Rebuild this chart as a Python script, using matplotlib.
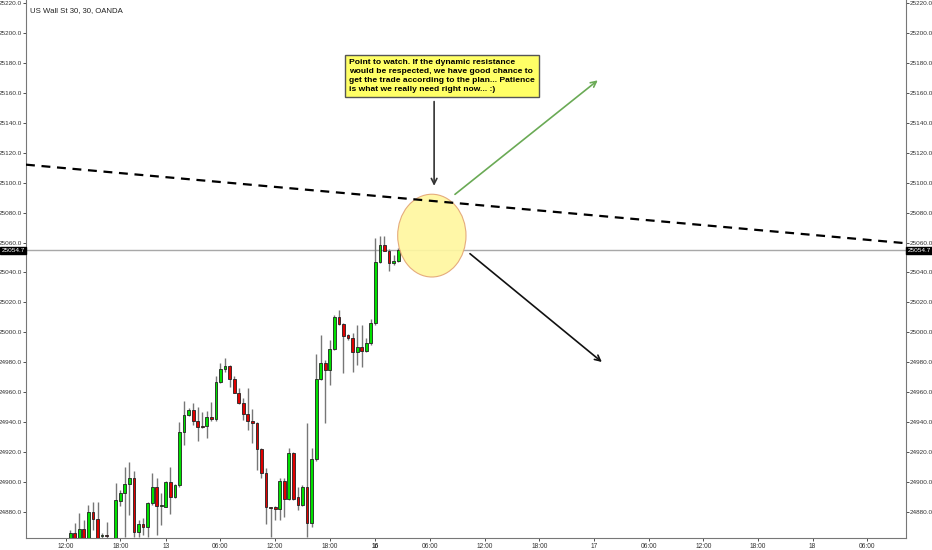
#!/usr/bin/env python

import numpy as np
import matplotlib.pyplot as plt
from matplotlib.patches import Ellipse
from matplotlib.transforms import blended_transform_factory

plt.rcParams['font.family'] = ['Liberation Sans', 'DejaVu Sans']

# 30 min bars, index 0 = 12:00 on the 12th
bar_idx = list(range(1, 74))
opens = [24862.0, 24866.2, 24862.0, 24868.6, 24861.0, 24880.2, 24875.3, 24864.2, 24864.5, 24862.5,
         24852.0, 24887.6, 24892.5, 24898.7, 24902.5, 24866.9, 24872.0, 24869.8, 24885.8, 24896.7,
         24884.0, 24883.6, 24900.3, 24890.3, 24898.0, 24933.2, 24944.6, 24948.4, 24940.6, 24937.4,
         24937.4, 24943.7, 24941.9, 24966.6, 24975.8, 24977.5, 24968.6, 24959.7, 24953.0, 24945.2,
         24941.0, 24939.2, 24921.9, 24906.3, 24883.1, 24883.1, 24881.8, 24900.7, 24888.5, 24919.2,
         24890.3, 24884.5, 24896.5, 24872.9, 24915.2, 24968.6, 24979.3, 24974.9, 24989.1, 25010.1,
         25005.4, 24998.0, 24996.5, 24986.9, 24990.5, 24987.8, 24993.1, 25006.0, 25047.0, 25058.4,
         25054.6, 25046.1, 25047.7]
highs = [24868.0, 24872.4, 24879.6, 24874.7, 24884.7, 24886.5, 24886.9, 24866.0, 24873.3, 24862.6,
         24899.2, 24894.7, 24909.8, 24913.6, 24907.6, 24874.7, 24875.8, 24886.9, 24905.8, 24902.5,
         24892.5, 24901.0, 24909.8, 24899.0, 24940.4, 24954.4, 24949.3, 24952.6, 24950.4, 24947.0,
         24947.5, 24953.3, 24970.8, 24979.3, 24982.7, 24978.2, 24971.1, 24962.6, 24955.9, 24962.6,
         24949.0, 24940.4, 24922.5, 24909.2, 24883.5, 24884.0, 24902.5, 24902.5, 24922.5, 24920.3,
         24896.9, 24898.0, 24939.7, 24922.5, 24985.6, 24998.2, 24981.5, 24994.9, 25011.6, 25015.0,
         25006.0, 24999.0, 24999.4, 25004.9, 25004.9, 24996.0, 25008.7, 25062.8, 25064.4, 25064.4,
         25055.5, 25051.5, 25056.2]
lows = [24858.0, 24858.0, 24858.0, 24857.0, 24858.0, 24868.0, 24856.0, 24862.0, 24862.0, 24845.0,
        24848.0, 24884.0, 24863.5, 24878.0, 24863.5, 24863.5, 24864.6, 24863.5, 24884.7, 24864.6,
        24871.3, 24883.0, 24878.7, 24889.0, 24897.0, 24924.8, 24944.0, 24938.1, 24927.7, 24936.3,
        24929.7, 24941.0, 24941.0, 24966.0, 24973.8, 24963.7, 24959.3, 24952.0, 24941.5, 24934.8,
        24925.9, 24908.1, 24902.5, 24872.0, 24863.5, 24874.7, 24874.7, 24876.4, 24888.0, 24888.0,
        24881.3, 24884.0, 24863.5, 24870.2, 24914.0, 24968.0, 24939.2, 24964.8, 24988.0, 25005.0,
        24972.6, 24995.0, 24973.8, 24978.2, 24977.1, 24987.0, 24991.6, 25005.0, 25046.0, 25054.0,
        25041.0, 25045.0, 25047.0]
closes = [24866.2, 24862.0, 24868.6, 24861.0, 24880.2, 24875.3, 24860.0, 24864.6, 24864.0, 24850.0,
          24888.0, 24892.5, 24898.7, 24902.5, 24866.9, 24872.0, 24869.8, 24885.8, 24896.7, 24884.0,
          24884.2, 24900.3, 24890.3, 24898.0, 24933.2, 24944.6, 24948.4, 24940.6, 24937.0, 24937.0,
          24943.7, 24941.9, 24966.6, 24975.8, 24977.5, 24968.6, 24959.7, 24953.0, 24945.2, 24941.0,
          24939.2, 24921.9, 24906.3, 24883.1, 24882.7, 24881.8, 24900.7, 24888.5, 24919.2, 24888.5,
          24884.5, 24896.5, 24872.9, 24915.2, 24968.6, 24979.3, 24974.9, 24989.1, 25010.1, 25005.4,
          24997.6, 24996.0, 24986.9, 24990.5, 24987.8, 24993.1, 25006.0, 25047.0, 25058.4, 25054.6,
          25046.1, 25047.7, 25054.7]

last_price = 25054.7
tick_pos = [0, 12, 22, 34, 46, 58, 68, 80, 92, 104, 116, 128, 140, 152, 164, 176]
tick_labels = ['12:00', '18:00', '13', '06:00', '12:00', '18:00', '16', '06:00',
               '12:00', '18:00', '17', '06:00', '12:00', '18:00', '18', '06:00']
y_ticks = np.arange(24880, 25221, 20)

# drawings
trend_x = [-8.7, 184.5]
trend_y = [25112.0, 25059.5]
note = ("Point to watch. If the dynamic resistance\n"
        "would be respected, we have good chance to\n"
        "get the trade according to the plan... Patience\n"
        "is what we really need right now... :)")

fig = plt.figure(figsize=(9.32, 5.5), dpi=100)
ax = fig.add_axes([26 / 932, 12.3 / 550, 880 / 932, 537.7 / 550])
ax.set_xlim(-8.7, 184.5)
ax.set_ylim(24862.8, 25222.0)

o = np.array(opens)
c = np.array(closes)
up = c >= o
cols = np.where(up, '#00e000', '#e00000')
ax.vlines(bar_idx, lows, highs, color='#777777', lw=1, zorder=2)
body_lo = np.minimum(o, c)
body_h = np.maximum(np.abs(c - o), 0.6)
ax.bar(bar_idx, body_h, bottom=body_lo, width=0.62, color=cols,
       edgecolor='#222222', linewidth=0.6, zorder=3)

# last price line and trendline
ax.axhline(last_price, color='#a8a8a8', lw=1, zorder=1)
ax.plot(trend_x, trend_y, color='black', lw=1.6, ls=(0, (4, 3)), zorder=5)

ell = Ellipse((80.4, 25064.6), 15.0, 55.3, facecolor='#fff7a0', edgecolor='#e3a575',
              lw=0.8, alpha=0.92, zorder=4)
ax.add_patch(ell)

ax.annotate('', xy=(80.9, 25096.0), xytext=(80.9, 25156.0),
            arrowprops=dict(arrowstyle='->', color='#333333', lw=1.2))
ax.annotate('', xy=(117.3, 25169.5), xytext=(85.0, 25091.0),
            arrowprops=dict(arrowstyle='->', color='#6aaa55', lw=1.2))
ax.annotate('', xy=(118.2, 24979.0), xytext=(88.3, 25053.7),
            arrowprops=dict(arrowstyle='->', color='#111111', lw=1.2))

ax.text(62.2, 25171.3, note, ha='left', va='center', fontsize=6.1, color='black',
        fontweight='bold', linespacing=1.38, zorder=6,
        bbox=dict(boxstyle='square,pad=0.5', facecolor='#ffff66', edgecolor='#555555', lw=1))

ax.text(0.005, 0.981, 'US Wall St 30, 30, OANDA', transform=ax.transAxes,
        fontsize=5.6, color='#222222', va='center', ha='left')

# axes styling
ax.spines['top'].set_visible(False)
for s in ['left', 'right', 'bottom']:
    ax.spines[s].set_color('#777777')
ax.set_yticks(y_ticks)
ax.set_yticklabels(['%.1f' % v for v in y_ticks])
ax.set_xticks(tick_pos)
ax.set_xticklabels(tick_labels)
ax.tick_params(axis='both', labelsize=4.6, colors='#333333', length=2, width=0.6)
ax.tick_params(axis='y', right=True, labelright=True, pad=1)
ax.tick_params(axis='x', pad=2, labelsize=4.8)
for lab in ax.get_xticklabels():
    if lab.get_text() == '16':
        lab.set_fontweight('bold')

tr = blended_transform_factory(ax.transAxes, ax.transData)
box = dict(boxstyle='square,pad=0.15', facecolor='black', edgecolor='black')
ax.text(-0.0015, last_price, '%.1f' % last_price, transform=tr, ha='right', va='center',
        fontsize=4.6, color='white', bbox=box, zorder=7, clip_on=False)
ax.text(1.0015, last_price, '%.1f' % last_price, transform=tr, ha='left', va='center',
        fontsize=4.6, color='white', bbox=box, zorder=7, clip_on=False)

fig.savefig('out.png', dpi=100)
